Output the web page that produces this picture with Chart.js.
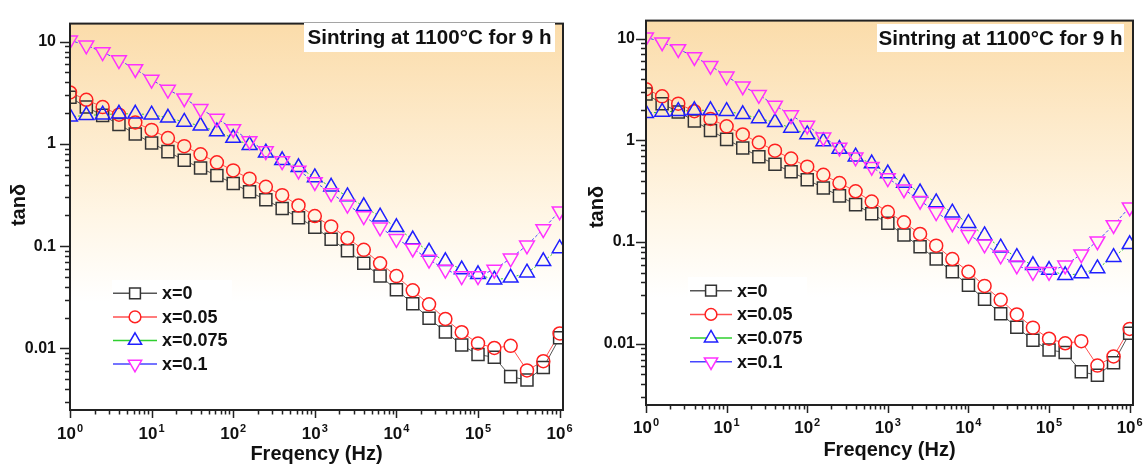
<!DOCTYPE html>
<html lang="en">
<head>
  <meta charset="UTF-8" />
  <title>tanδ vs frequency</title>
  <script src="https://cdn.jsdelivr.net/npm/chart.js"></script>
  <style>
    body { margin: 0; background: #fff; width: 1143px; height: 467px; position: relative; overflow: hidden; }
    canvas { position: absolute; top: 0; }
    #left { left: 0; }
    #right { left: 578px; }
  </style>
</head>
<body>
  <canvas id="left" width="578" height="467"></canvas>
  <canvas id="right" width="565" height="467"></canvas>

  <script>
    const FONT = "'Liberation Sans', Arial, sans-serif";

    // measuring frequencies (Hz), 5 per decade
    const freqs = [1, 1.585, 2.512, 3.981, 6.31, 10, 15.85, 25.12, 39.81, 63.1,
      100, 158.5, 251.2, 398.1, 631, 1000, 1585, 2512, 3981, 6310,
      10000, 15850, 25120, 39810, 63100, 100000, 158500, 251200, 398100, 631000, 1000000];

    // tan delta
    const tanX0 = [2.85, 2.29, 1.9, 1.55, 1.25, 1.02, 0.84, 0.69, 0.58, 0.49,
      0.41, 0.34, 0.284, 0.233, 0.19, 0.153, 0.117, 0.09, 0.068, 0.051,
      0.0375, 0.0274, 0.0197, 0.0145, 0.0108, 0.0087, 0.0082, 0.0053, 0.0049, 0.0065, 0.0127];
    const tanX005 = [3.18, 2.7, 2.29, 1.93, 1.62, 1.37, 1.14, 0.95, 0.79, 0.66,
      0.55, 0.457, 0.38, 0.315, 0.25, 0.197, 0.156, 0.12, 0.092, 0.068,
      0.051, 0.037, 0.027, 0.0194, 0.0144, 0.0112, 0.0101, 0.0106, 0.0061, 0.0075, 0.014];
    const tanX0075 = [1.84, 1.9, 1.93, 1.97, 1.97, 1.93, 1.8, 1.64, 1.5, 1.32,
      1.14, 0.97, 0.82, 0.69, 0.59, 0.47, 0.38, 0.306, 0.245, 0.194,
      0.153, 0.116, 0.088, 0.071, 0.059, 0.053, 0.047, 0.049, 0.055, 0.071, 0.095];
    const tanX01 = [10.3, 9.2, 7.9, 6.6, 5.4, 4.25, 3.4, 2.8, 2.2, 1.77,
      1.4, 1.07, 0.85, 0.68, 0.55, 0.425, 0.33, 0.255, 0.197, 0.153,
      0.118, 0.095, 0.074, 0.059, 0.051, 0.051, 0.059, 0.076, 0.102, 0.147, 0.22];

    const series = [tanX0, tanX005, tanX0075, tanX01];
    const seriesNames = ['x=0', 'x=0.05', 'x=0.075', 'x=0.1'];

    // x ticks are 10^n, written as base + superscript exponent
    const xTickExps = ['0', '1', '2', '3', '4', '5', '6'];
    const yTickValues = [0.01, 0.1, 1, 10];
    const yTickLabels = ['0.01', '0.1', '1', '10'];

    const styles = [
      { marker: '#333333', line: '#555555', dash: [], pointStyle: 'rect', rotation: 0, radius: 8.5 },
      { marker: '#ff2020', line: '#ff5050', dash: [], pointStyle: 'circle', rotation: 0, radius: 6.5 },
      { marker: '#1f1fff', line: '#2fcf2f', dash: [2, 2], pointStyle: 'triangle', rotation: 0, radius: 8.5 },
      { marker: '#ff30ff', line: '#4646ff', dash: [3, 2], pointStyle: 'triangle', rotation: 180, radius: 8.5 },
    ];

    function bgGradient(chart) {
      const a = chart.chartArea;
      if (!a) return '#fff';
      const key = a.top + ':' + a.bottom;
      if (chart.$bgKey !== key) {
        const g = chart.ctx.createLinearGradient(0, a.top, 0, a.bottom);
        g.addColorStop(0, '#fbdcaa');
        g.addColorStop(0.25, '#fde9c8');
        g.addColorStop(0.5, '#fff6e6');
        g.addColorStop(0.72, '#ffffff');
        g.addColorStop(1, '#ffffff');
        chart.$bg = g;
        chart.$bgKey = key;
      }
      return chart.$bg;
    }

    function drawMarker(ctx, st, x, y, r) {
      ctx.save();
      ctx.translate(x, y);
      ctx.rotate(st.rotation * Math.PI / 180);
      ctx.beginPath();
      if (st.pointStyle === 'rect') {
        const s = r * Math.SQRT1_2;
        ctx.rect(-s, -s, 2 * s, 2 * s);
      } else if (st.pointStyle === 'circle') {
        ctx.arc(0, 0, r, 0, Math.PI * 2);
      } else {
        ctx.moveTo(0, -r);
        ctx.lineTo(r * Math.sin(2 * Math.PI / 3), -r * Math.cos(2 * Math.PI / 3));
        ctx.lineTo(r * Math.sin(4 * Math.PI / 3), -r * Math.cos(4 * Math.PI / 3));
        ctx.closePath();
      }
      ctx.fillStyle = '#fff';
      ctx.fill();
      ctx.lineWidth = 1.5;
      ctx.strokeStyle = st.marker;
      ctx.stroke();
      ctx.restore();
    }

    function makePanel(id, g) {
      const datasets = [];
      series.forEach((vals, i) => {
        const st = styles[i];
        const pts = freqs.map((f, k) => ({ x: f, y: vals[k] }));
        // line with background-filled symbols, so the line stops at each symbol
        datasets.push({
          data: pts, borderColor: st.line, borderWidth: 1, borderDash: st.dash,
          pointStyle: st.pointStyle, pointRotation: st.rotation, pointRadius: st.radius,
          pointBorderWidth: 0, pointBorderColor: 'rgba(0,0,0,0)',
          pointBackgroundColor: c => bgGradient(c.chart), order: 10
        });
        // hollow symbols on top
        datasets.push({
          label: seriesNames[i], data: pts, showLine: false,
          pointStyle: st.pointStyle, pointRotation: st.rotation, pointRadius: st.radius,
          pointBorderWidth: 1.5, pointBorderColor: st.marker,
          pointBackgroundColor: 'rgba(0,0,0,0)', order: 4 - i
        });
      });

      const deco = {
        id: 'deco',
        beforeDatasetsDraw(chart) {
          const { ctx, chartArea: a } = chart;
          ctx.save();
          ctx.fillStyle = bgGradient(chart);
          ctx.fillRect(a.left, a.top, a.right - a.left, a.bottom - a.top);
          ctx.restore();
        },
        afterDraw(chart) {
          const { ctx, chartArea: a, scales: { x, y } } = chart;
          ctx.save();
          // frame
          ctx.strokeStyle = '#222';
          ctx.lineWidth = 2;
          ctx.strokeRect(a.left, a.top, a.right - a.left, a.bottom - a.top);

          // major + minor tick marks, outward
          ctx.lineWidth = 1.5;
          ctx.beginPath();
          for (let e = -3; e <= 7; e++) {
            for (let m = 1; m <= 9; m++) {
              const v = m * Math.pow(10, e);
              if (v >= x.min && v <= x.max) {
                const px = Math.round(x.getPixelForValue(v)) + 0.5;
                ctx.moveTo(px, a.bottom);
                ctx.lineTo(px, a.bottom + (m === 1 ? 8 : 4.5));
              }
              if (v >= y.min && v <= y.max) {
                const py = Math.round(y.getPixelForValue(v)) + 0.5;
                ctx.moveTo(a.left, py);
                ctx.lineTo(a.left - (m === 1 ? 10 : 5), py);
              }
            }
          }
          ctx.stroke();

          // x tick labels 10^n with a real superscript
          ctx.fillStyle = '#111';
          ctx.textBaseline = 'alphabetic';
          ctx.textAlign = 'left';
          xTickExps.forEach((ex, n) => {
            const px = x.getPixelForValue(Math.pow(10, n));
            ctx.font = 'bold 17px ' + FONT;
            const wb = ctx.measureText('10').width;
            ctx.font = 'bold 11px ' + FONT;
            const we = ctx.measureText(ex).width;
            const x0 = px - (wb + we + 1) / 2;
            const base = a.bottom + g.xLabBase;
            ctx.font = 'bold 17px ' + FONT;
            ctx.fillText('10', x0, base);
            ctx.font = 'bold 11px ' + FONT;
            ctx.fillText(ex, x0 + wb + 1, base - 7);
          });

          // y axis title
          ctx.save();
          ctx.translate(g.yTitleX, g.yTitleY);
          ctx.rotate(-Math.PI / 2);
          ctx.font = 'bold 20px ' + FONT;
          ctx.textAlign = 'center';
          ctx.textBaseline = 'middle';
          ctx.fillText('tanδ', 0, 0);
          ctx.restore();

          // annotation box
          ctx.fillStyle = '#fff';
          ctx.fillRect(g.boxX, g.boxY, g.boxW, g.boxH);
          ctx.fillStyle = '#111';
          ctx.font = 'bold 20.6px ' + FONT;
          ctx.textAlign = 'center';
          ctx.textBaseline = 'middle';
          ctx.fillText('Sintring at 1100°C for 9 h', g.boxX + g.boxW / 2, g.boxY + g.boxH / 2 + 1);

          // legend
          ctx.fillStyle = '#fff';
          ctx.fillRect(g.legX, g.legY, g.legW, g.legH);
          ctx.font = 'bold 18px ' + FONT;
          ctx.textAlign = 'left';
          seriesNames.forEach((name, i) => {
            const st = styles[i];
            const ly = g.legY0 + i * g.legDy;
            ctx.strokeStyle = st.line;
            ctx.lineWidth = 1.5;
            ctx.beginPath();
            ctx.moveTo(g.legL0, ly);
            ctx.lineTo(g.legL1, ly);
            ctx.stroke();
            drawMarker(ctx, st, (g.legL0 + g.legL1) / 2, ly, st.radius * 0.9);
            ctx.fillStyle = '#111';
            ctx.fillText(name, g.legT, ly + 1);
          });
          ctx.restore();
        }
      };

      return new Chart(document.getElementById(id), {
        type: 'line',
        data: { datasets },
        plugins: [deco],
        options: {
          responsive: false,
          animation: false,
          events: [],
          layout: { padding: { top: g.padTop, right: g.padRight, left: 0, bottom: 0 } },
          plugins: { legend: { display: false }, tooltip: { enabled: false } },
          scales: {
            x: {
              type: 'logarithmic', min: 1, max: 1.1e6,
              afterFit: s => { s.height = g.xAxisH; },
              grid: { display: true, drawOnChartArea: false, drawTicks: false },
              border: { display: false },
              ticks: { autoSkip: false, maxRotation: 0, callback: () => '' },
              title: {
                display: true, text: 'Freqency (Hz)', color: '#111',
                font: { family: FONT, size: 20, weight: 'bold' },
                padding: { top: 0, bottom: g.xTitlePad }
              }
            },
            y: {
              type: 'logarithmic', min: 0.0025, max: 15,
              afterFit: s => { s.width = g.yAxisW; },
              grid: { display: true, drawOnChartArea: false, drawTicks: false },
              border: { display: false },
              ticks: {
                autoSkip: false, padding: g.yTickPad, color: '#111',
                font: { family: FONT, size: 16, weight: 'bold' },
                callback: v => {
                  const i = yTickValues.findIndex(t => Math.abs(t - v) / t < 1e-6);
                  return i >= 0 ? yTickLabels[i] : '';
                }
              }
            }
          }
        }
      });
    }

    makePanel('left', {
      padTop: 12, padRight: 15, yAxisW: 70, xAxisH: 57,
      xLabBase: 28.5, yTickPad: 14, xTitlePad: 1, yTitleX: 19, yTitleY: 205,
      boxX: 304, boxY: 23, boxW: 251, boxH: 29,
      legX: 112, legY: 280, legW: 120, legH: 93,
      legY0: 293.3, legDy: 23.6, legL0: 113, legL1: 157, legT: 162
    });

    makePanel('right', {
      padTop: 13, padRight: 10, yAxisW: 68, xAxisH: 62,
      xLabBase: 28.3, yTickPad: 11, xTitlePad: 5, yTitleX: 19, yTitleY: 207,
      boxX: 299, boxY: 24, boxW: 247, boxH: 28,
      legX: 110, legY: 277, legW: 119, legH: 94,
      legY0: 290.7, legDy: 23.7, legL0: 112, legL1: 154, legT: 159
    });
  </script>
</body>
</html>
